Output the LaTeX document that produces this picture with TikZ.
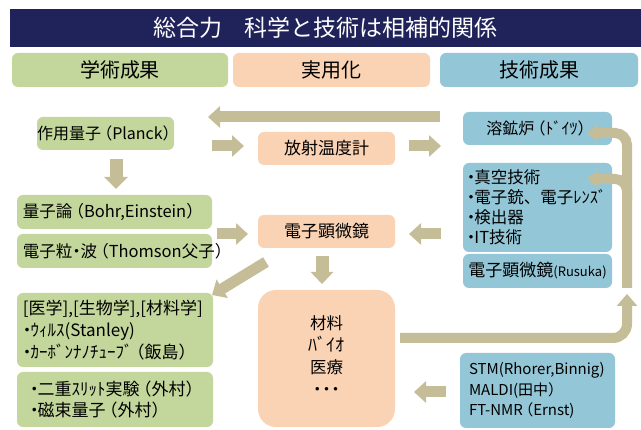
\documentclass[tikz,border=0pt]{standalone}
\usepackage{fontspec}
\setmainfont{Noto Sans CJK JP}
\usetikzlibrary{arrows.meta,calc}
\definecolor{navy}{HTML}{20225A}
\definecolor{gfill}{HTML}{C3D69B}
\definecolor{ofill}{HTML}{FAD3B4}
\definecolor{bfill}{HTML}{93C6D6}
\definecolor{arrowc}{HTML}{C4BD97}
\newcommand{\fsz}[2]{\fontsize{#1}{#2}\selectfont}
\newcommand{\lpar}{\kern-0.3em（}
\newcommand{\rpar}{）\kern-0.3em}
\newcommand{\bul}{\hspace*{-0.25em}・\kern-0.3em}
\begin{document}
\begin{tikzpicture}[x=1pt,y=-1pt,
  rbox/.style={rounded corners=6pt, inner sep=0pt, text=black},
  gbox/.style={rbox, fill=gfill},
  obox/.style={rbox, fill=ofill},
  bbox/.style={rbox, fill=bfill},
  lbox/.style={align=left, inner xsep=6pt},
  barrow/.style={draw=arrowc, line width=11pt, -{Triangle[width=21pt,length=12pt]}},
  carrow/.style={draw=arrowc, line width=10pt, rounded corners=14pt, -{Triangle[width=20pt,length=12pt]}},
]
\fill[white] (0,0) rectangle (641,430);
\useasboundingbox (0,0) rectangle (641,430);

% title and headers
\node[fill=navy, inner sep=0pt, minimum width=631, minimum height=38, text=white, font=\fsz{23}{26}] (title) at (325.5,28) {総合力　科学と技術は相補的関係};
\node[gbox, minimum width=216, minimum height=34, font=\fsz{20}{24}] (h1) at (120,70) {学術成果};
\node[obox, minimum width=197, minimum height=34, font=\fsz{20}{24}] (h2) at (331.5,70) {実用化};
\node[bbox, minimum width=198, minimum height=34, font=\fsz{20}{24}] (h3) at (539,70) {技術成果};

% left column
\node[gbox, minimum width=137, minimum height=33, font=\fsz{16}{20}] (planck) at (105.5,133.5) {作用量子\lpar Planck\rpar};
\node[gbox, lbox, text width=183pt, minimum height=34, font=\fsz{16.5}{20}] (ryoshi) at (114.5,212) {\mbox{量子論\lpar Bohr,Einstein\rpar}};
\node[gbox, lbox, text width=183pt, minimum height=34, font=\fsz{16.5}{20}] (ryushi) at (114.5,251) {\mbox{電子粒\kern-0.25em・\kern-0.25em波\lpar Thomson父子\rpar}};
\node[gbox, lbox, text width=184pt, minimum height=74, font=\fsz{17}{22}] (igaku) at (115,330) {\mbox{[医学],[生物学],[材料学]}\\\bul\mbox{ｳｨﾙｽ(Stanley)}\\\bul\mbox{ｶｰﾎﾞﾝﾅﾉﾁｭｰﾌﾞ\lpar 飯島\rpar}};
\node[gbox, align=left, inner xsep=13pt, text width=170pt, minimum height=55, font=\fsz{17}{21}] (nijuu) at (115,399.5) {\bul\mbox{二重ｽﾘｯﾄ実験\lpar 外村\rpar}\\\bul\mbox{磁束量子\lpar 外村\rpar}};

% middle column
\node[obox, minimum width=137, minimum height=33, font=\fsz{17}{20}] (housha) at (326.5,148.5) {放射温度計};
\node[obox, minimum width=137, minimum height=33, font=\fsz{17}{20}] (denkenL) at (326.5,231.5) {電子顕微鏡};
\node[obox, rounded corners=18pt, minimum width=137, minimum height=137, align=center, font=\fsz{16.5}{21.5}] (zairyo) at (326.5,358.5) {\raisebox{4pt}{\begin{tabular}{@{}c@{}}材料\\[0.5pt] {\fsz{18}{21}ﾊﾞｲｵ}\\[0.5pt] 医療\\[0.5pt] ・\kern-0.45em・\kern-0.45em・\end{tabular}}};

% right column
\node[bbox, minimum width=149, minimum height=33, font=\fsz{16}{20}] (youko) at (537.5,128.5) {溶鉱炉\lpar ﾄﾞｲﾂ\rpar};
\node[bbox, align=left, inner xsep=4pt, text width=141pt, minimum height=89, font=\fsz{16.5}{20}] (shinku) at (537.5,207.5) {\bul 真空技術\\\bul\mbox{電子銃、電子ﾚﾝｽﾞ}\\\bul 検出器\\\bul IT技術};
\node[bbox, minimum width=149, minimum height=34, font=\fsz{17}{20}] (denkenR) at (537.5,271) {電子顕微鏡{\fsz{13}{16}(Rusuka)}};
\node[bbox, lbox, inner xsep=9pt, text width=137pt, minimum height=75, font=\fsz{15}{20.5}] (stm) at (537.5,390.5) {STM(Rhorer,Binnig)\\MALDI(田中\rpar\\FT-NMR\lpar Ernst)};

% arrow end points
\coordinate (a1s) at (440,117);   \coordinate (a1e) at (208,117);
\coordinate (a2s) at (212,146);   \coordinate (a2e) at (244,146);
\coordinate (a3s) at (409,146);   \coordinate (a3e) at (441,146);
\coordinate (a4s) at (116,159);   \coordinate (a4e) at (116,189);
\coordinate (a5s) at (217,234);   \coordinate (a5e) at (248,234);
\coordinate (a6s) at (441,234);   \coordinate (a6e) at (409,234);
\coordinate (a7s) at (322,256);   \coordinate (a7e) at (322,284);
\coordinate (a8s) at (266,262);   \coordinate (a8e) at (212,295);
\coordinate (a9s) at (446,392);   \coordinate (a9e) at (414,392);
\coordinate (c1s) at (400,338);   \coordinate (c1k) at (627,338);  \coordinate (c1e) at (627,294);
\coordinate (c2s) at (627,288);   \coordinate (c2k) at (627,133);  \coordinate (c2e) at (587,133);
\coordinate (c3s) at (627,200);   \coordinate (c3k) at (627,179);  \coordinate (c3e) at (587,179);

\draw[barrow] (a1s) -- (a1e);
\draw[barrow] (a2s) -- (a2e);
\draw[barrow] (a3s) -- (a3e);
\draw[barrow, line width=13pt, -{Triangle[width=23pt,length=12pt]}] (a4s) -- (a4e);
\draw[barrow] (a5s) -- (a5e);
\draw[barrow] (a6s) -- (a6e);
\draw[barrow, line width=13pt, -{Triangle[width=22pt,length=12pt]}] (a7s) -- (a7e);
\draw[barrow] (a8s) -- (a8e);
\draw[barrow] (a9s) -- (a9e);
\draw[carrow] (c1s) -- (c1k) -- (c1e);
\draw[carrow, rounded corners=12pt, -{Triangle[width=17pt,length=11pt]}] (c2s) -- (c2k) -- (c2e);
\draw[carrow, rounded corners=12pt, -{Triangle[width=17pt,length=11pt]}] (c3s) -- (c3k) -- (c3e);
\end{tikzpicture}
\end{document}
